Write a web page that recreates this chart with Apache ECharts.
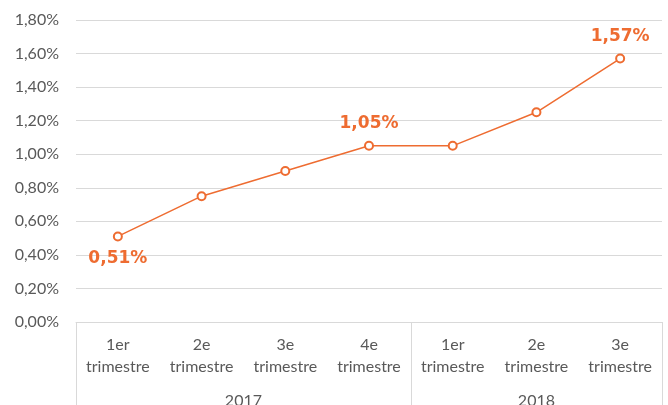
<!DOCTYPE html>
<html>
<head>
<meta charset="UTF-8">
<script src="https://cdn.jsdelivr.net/npm/echarts@6/dist/echarts.min.js"></script>
<style>
  html, body { margin: 0; padding: 0; background: #fff; }
  #chart { width: 668px; height: 405px; }
</style>
</head>
<body>
<div id="chart"></div>
<script>
// data
var quarters = ['1er\ntrimestre', '2e\ntrimestre', '3e\ntrimestre', '4e\ntrimestre',
                '1er\ntrimestre', '2e\ntrimestre', '3e\ntrimestre'];
var years = ['2017', '2018'];
var yearSpans = [4, 3];           // nombre de trimestres par année
var values = [0.51, 0.75, 0.90, 1.05, 1.05, 1.25, 1.57];
var labelled = [0, 3, 6];         // points avec étiquette
var labelPos = ['bottom', 'top', 'top'];

var orange = '#EE6C31';
var grey = '#d9d9d9';
var fmt = function (v) { return v.toFixed(2).replace('.', ',') + '%'; };

// bornes et centres des groupes d'années
var bounds = [0], centers = [];
yearSpans.forEach(function (n, i) {
  centers.push(bounds[i] + n / 2);
  bounds.push(bounds[i] + n);
});

var seriesData = values.map(function (v, i) {
  var k = labelled.indexOf(i);
  if (k < 0) return v;
  return { value: v, label: { show: true, position: labelPos[k] } };
});

var chart = echarts.init(document.getElementById('chart'));
chart.setOption({
  animation: false,
  grid: { left: 76, right: 6, top: 20, bottom: 83, outerBoundsMode: 'none', containLabel: false },
  xAxis: [{
    type: 'category',
    data: quarters,
    boundaryGap: true,
    axisLine: { lineStyle: { color: grey, width: 1 } },
    axisTick: { show: false },
    axisLabel: {
      interval: 0, margin: 12, color: '#595959',
      fontFamily: 'Lato', fontSize: 16, lineHeight: 22
    }
  }, {
    type: 'value',
    min: 0, max: bounds[bounds.length - 1],
    position: 'bottom',
    axisLine: { show: false },
    splitLine: { show: false },
    axisTick: { show: true, customValues: bounds, length: 90,
                lineStyle: { color: grey, width: 1 } },
    axisLabel: {
      customValues: centers, margin: 71, color: '#595959',
      fontFamily: 'Lato', fontSize: 16,
      formatter: function (v) { return years[centers.indexOf(v)]; }
    }
  }],
  yAxis: {
    type: 'value',
    min: 0, max: 1.8, interval: 0.2,
    axisLine: { show: false },
    axisTick: { show: false },
    splitLine: { lineStyle: { color: grey, width: 1 } },
    axisLabel: {
      formatter: fmt, margin: 17, color: '#595959',
      fontFamily: 'Lato', fontSize: 16
    }
  },
  series: [{
    type: 'line',
    data: seriesData,
    symbol: 'emptyCircle',
    symbolSize: 8,
    lineStyle: { color: orange, width: 1.5 },
    itemStyle: { color: orange, borderWidth: 1.2 },
    label: {
      show: false, distance: 9, color: orange,
      fontFamily: 'DejaVu Sans', fontWeight: 'bold', fontSize: 17,
      formatter: function (p) { return fmt(p.value); }
    }
  }]
});
</script>
</body>
</html>
